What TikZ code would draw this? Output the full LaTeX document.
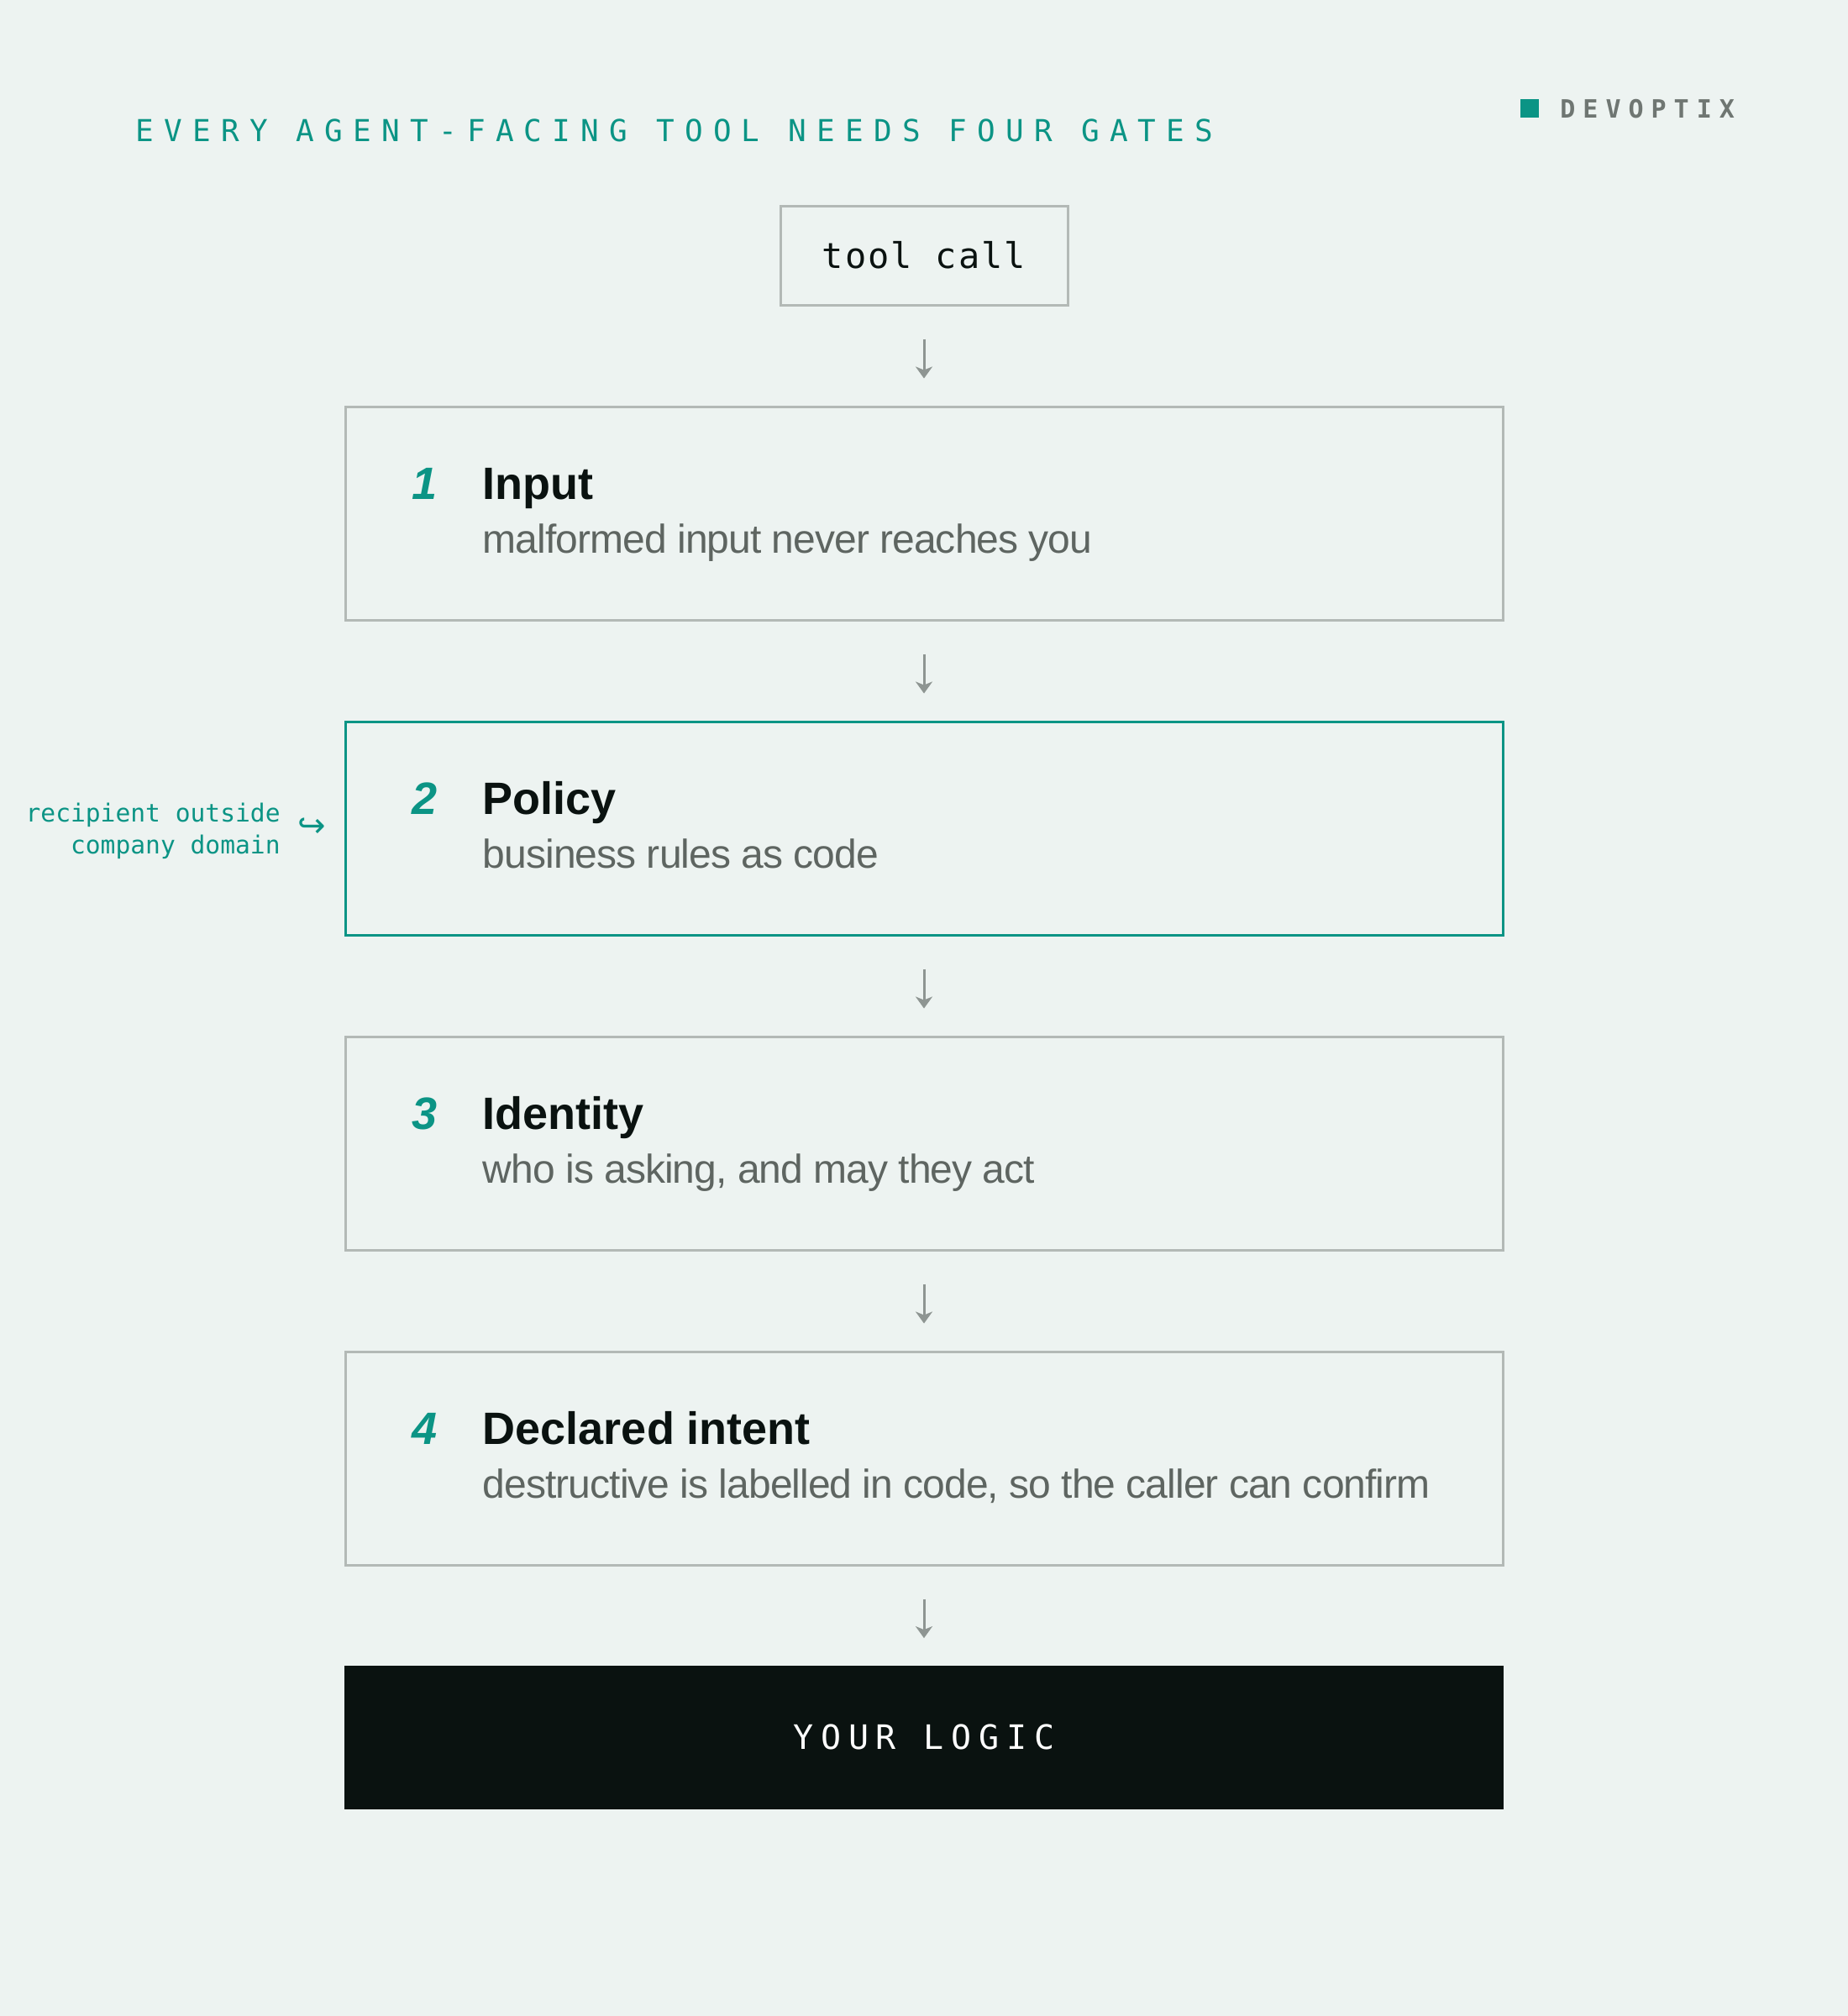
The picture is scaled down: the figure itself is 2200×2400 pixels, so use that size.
\documentclass[tikz,border=0pt]{standalone}
\usepackage{fontspec}
\setmainfont{Liberation Sans}
\newfontfamily\monofont{DejaVu Sans Mono}
\newfontfamily\symbfont{DejaVu Sans}
\usetikzlibrary{positioning,calc,arrows.meta}
\definecolor{bg}{HTML}{EDF3F1}
\definecolor{gateteal}{HTML}{0B9485}
\definecolor{ink}{HTML}{0A1210}
\definecolor{rulegray}{HTML}{B3B9B6}
\definecolor{subgray}{HTML}{5E6561}
\definecolor{arrowgray}{HTML}{8E9592}
\definecolor{markgray}{HTML}{6F7672}
\newcommand*{\fsz}[1]{\fontsize{#1}{1.2\dimexpr#1pt\relax}\selectfont}

\begin{document}
\begin{tikzpicture}[x=0.5pt,y=-0.5pt,
  gate/.style={draw=rulegray,line width=1.5pt,minimum width=689pt,
    minimum height=127pt,inner sep=0pt},
  gatenum/.style={anchor=base,inner sep=0pt,text=gateteal,
    font=\fsz{27}\bfseries\itshape},
  gatetitle/.style={anchor=base west,inner sep=0pt,text=ink,
    font=\fsz{27}\bfseries},
  gatesub/.style={anchor=base west,inner sep=0pt,text=subgray,
    font=\fsz{24}\addfontfeature{LetterSpace=-2}},
  flow/.style={draw=arrowgray,line width=1.5pt,
    -{Stealth[length=7pt,width=10pt,inset=2pt]},
    shorten <=19.5pt,shorten >=16pt}]
% page and background
\fill[bg] (0,0) rectangle (2200,2400);
\useasboundingbox (0,0) rectangle (2200,2400);
% heading and brand mark
\node[anchor=base west,inner sep=0pt,text=gateteal,
  font=\monofont\fsz{18}\addfontfeature{LetterSpace=34}] (heading) at (161,168)
  {EVERY AGENT-FACING TOOL NEEDS FOUR GATES};
\node[fill=gateteal,minimum size=11pt,inner sep=0pt] (mark) at (1821,129) {};
\node[anchor=base west,inner sep=0pt,text=markgray,
  font=\monofont\fsz{15}\bfseries\addfontfeature{LetterSpace=30}] (brand) at (1857,140)
  {DEVOPTIX};
% entry point
\node[draw=rulegray,line width=1.5pt,minimum width=171pt,minimum height=59pt,
  text=ink,font=\monofont\fsz{21}\addfontfeature{LetterSpace=5}] (call) at (1100,304)
  {tool call};
% the four gates
\node[gate] (g1) at (1100,611) {};
\node[gatenum] (n1) at ($(g1.north west)+(96,112)$) {1};
\node[gatetitle] (t1) at ($(g1.north west)+(165,112)$) {Input};
\node[gatesub] (s1) at ($(g1.north west)+(165,176)$) {malformed input never reaches you};

\node[gate,draw=gateteal] (g2) at (1100,986) {};
\node[gatenum] (n2) at ($(g2.north west)+(96,112)$) {2};
\node[gatetitle] (t2) at ($(g2.north west)+(165,112)$) {Policy};
\node[gatesub] (s2) at ($(g2.north west)+(165,176)$) {business rules as code};

\node[gate] (g3) at (1100,1361) {};
\node[gatenum] (n3) at ($(g3.north west)+(96,112)$) {3};
\node[gatetitle] (t3) at ($(g3.north west)+(165,112)$) {Identity};
\node[gatesub] (s3) at ($(g3.north west)+(165,176)$) {who is asking, and may they act};

\node[gate] (g4) at (1100,1736) {};
\node[gatenum] (n4) at ($(g4.north west)+(96,112)$) {4};
\node[gatetitle] (t4) at ($(g4.north west)+(165,112)$) {Declared intent};
\node[gatesub] (s4) at ($(g4.north west)+(165,176)$)
  {destructive is labelled in code, so the caller can confirm};
% side note on the policy gate
\node[anchor=east,align=right,inner sep=0pt,text=gateteal,
  font=\monofont\fontsize{14.8}{19}\selectfont] (note) at (334,989)
  {recipient outside\\company domain};
\node[text=gateteal,inner sep=0pt,font=\symbfont\fsz{20}] (hook) at (371,985) {↪};
% what is behind the gates
\node[fill=ink,minimum width=690pt,minimum height=85.5pt,inner sep=0pt,text=white,
  font=\monofont\fsz{20}\addfontfeature{LetterSpace=22}] (logic) at (1100,2068)
  {YOUR LOGIC};
% flow
\draw[flow] (call) -- (g1);
\draw[flow] (g1) -- (g2);
\draw[flow] (g2) -- (g3);
\draw[flow] (g3) -- (g4);
\draw[flow] (g4) -- (logic);
\end{tikzpicture}
\end{document}
